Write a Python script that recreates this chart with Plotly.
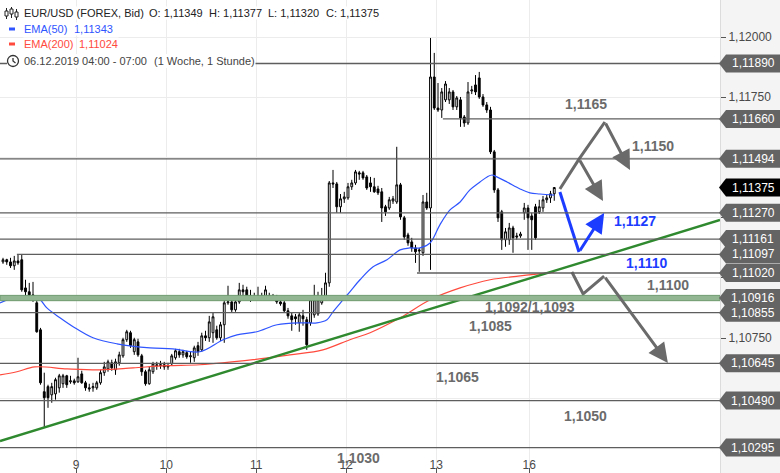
"""EUR/USD Stundenchart mit Analyse-Zeichnungen (Plotly)."""

import plotly.graph_objects as go

WIDTH, HEIGHT = 780, 473
PLOT_W = 720
FONT = "Liberation Sans, Arial, sans-serif"

Y_RANGE = [1.101894, 1.121537]
X_RANGE = [-0.8, 191.2]

# --- Kerzen (1 Stunde) ---------------------------------------------------
opens = [
    1.11066, 1.11075, 1.11066, 1.11050, 1.11070, 1.11075, 1.10958, 1.10942, 1.10929, 1.10896,
    1.10784, 1.10527, 1.10548, 1.10514, 1.10518, 1.10543, 1.10560, 1.10593, 1.10568, 1.10572,
    1.10568, 1.10601, 1.10564, 1.10543, 1.10543, 1.10543, 1.10564, 1.10606, 1.10622, 1.10647,
    1.10618, 1.10647, 1.10676, 1.10743, 1.10772, 1.10693, 1.10734, 1.10676, 1.10610, 1.10560,
    1.10610, 1.10639, 1.10635, 1.10639, 1.10630, 1.10643, 1.10668, 1.10693, 1.10680, 1.10689,
    1.10672, 1.10668, 1.10718, 1.10701, 1.10759, 1.10751, 1.10772, 1.10784, 1.10751, 1.10805,
    1.10896, 1.10900, 1.10867, 1.10900, 1.10950, 1.10950, 1.10925, 1.10921, 1.10921, 1.10925,
    1.10921, 1.10925, 1.10921, 1.10921, 1.10900, 1.10896, 1.10863, 1.10842, 1.10838, 1.10813,
    1.10842, 1.10826, 1.10813, 1.10846, 1.10850, 1.10896, 1.10921, 1.10979, 1.11394, 1.11390,
    1.11295, 1.11328, 1.11332, 1.11378, 1.11394, 1.11436, 1.11436, 1.11419, 1.11394, 1.11378,
    1.11369, 1.11357, 1.11295, 1.11290, 1.11319, 1.11315, 1.11386, 1.11249, 1.11178, 1.11149,
    1.11124, 1.11116, 1.11104, 1.11315, 1.11290, 1.11834, 1.11705, 1.11697, 1.11739, 1.11739,
    1.11772, 1.11710, 1.11739, 1.11668, 1.11643, 1.11776, 1.11801, 1.11830, 1.11751, 1.11718,
    1.11697, 1.11523, 1.11365, 1.11274, 1.11158, 1.11158, 1.11207, 1.11174, 1.11174, 1.11270,
    1.11290, 1.11257, 1.11295, 1.11274, 1.11290, 1.11324, 1.11332, 1.11349,
]
highs = [
    1.11083, 1.11079, 1.11083, 1.11091, 1.11099, 1.11099, 1.10992, 1.10979, 1.10983, 1.10909,
    1.10792, 1.10606, 1.10556, 1.10564, 1.10585, 1.10601, 1.10601, 1.10597, 1.10593, 1.10581,
    1.10668, 1.10614, 1.10572, 1.10560, 1.10564, 1.10572, 1.10618, 1.10651, 1.10660, 1.10660,
    1.10664, 1.10693, 1.10751, 1.10784, 1.10780, 1.10751, 1.10747, 1.10684, 1.10618, 1.10630,
    1.10651, 1.10651, 1.10655, 1.10651, 1.10647, 1.10684, 1.10705, 1.10705, 1.10701, 1.10697,
    1.10693, 1.10718, 1.10734, 1.10772, 1.10780, 1.10842, 1.10855, 1.10801, 1.10817, 1.10909,
    1.10967, 1.10917, 1.10909, 1.10979, 1.10971, 1.10963, 1.10950, 1.10938, 1.10963, 1.10938,
    1.10967, 1.10938, 1.10933, 1.10929, 1.10913, 1.10904, 1.10875, 1.10855, 1.10850, 1.10855,
    1.10867, 1.10838, 1.10921, 1.10971, 1.10942, 1.10958, 1.11021, 1.11402, 1.11448, 1.11398,
    1.11348, 1.11357, 1.11394, 1.11407, 1.11448, 1.11444, 1.11444, 1.11427, 1.11419, 1.11415,
    1.11382, 1.11373, 1.11303, 1.11336, 1.11340, 1.11544, 1.11394, 1.11257, 1.11187, 1.11166,
    1.11137, 1.11124, 1.11344, 1.11353, 1.11996, 1.11934, 1.11809, 1.11788, 1.11817, 1.11788,
    1.11780, 1.11755, 1.11751, 1.11676, 1.11813, 1.11797, 1.11842, 1.11855, 1.11763, 1.11730,
    1.11710, 1.11531, 1.11373, 1.11282, 1.11207, 1.11228, 1.11216, 1.11187, 1.11191, 1.11311,
    1.11303, 1.11270, 1.11307, 1.11324, 1.11340, 1.11344, 1.11361, 1.11377,
]
lows = [
    1.11058, 1.11054, 1.11041, 1.11033, 1.11054, 1.10942, 1.10925, 1.10921, 1.10900, 1.10772,
    1.10556, 1.10377, 1.10460, 1.10481, 1.10494, 1.10523, 1.10543, 1.10543, 1.10560, 1.10556,
    1.10564, 1.10560, 1.10531, 1.10527, 1.10527, 1.10535, 1.10556, 1.10593, 1.10610, 1.10614,
    1.10597, 1.10635, 1.10668, 1.10734, 1.10709, 1.10680, 1.10672, 1.10593, 1.10552, 1.10556,
    1.10601, 1.10618, 1.10622, 1.10618, 1.10618, 1.10635, 1.10660, 1.10668, 1.10668, 1.10664,
    1.10647, 1.10651, 1.10676, 1.10693, 1.10738, 1.10734, 1.10730, 1.10743, 1.10738, 1.10730,
    1.10888, 1.10855, 1.10859, 1.10892, 1.10909, 1.10909, 1.10900, 1.10909, 1.10909, 1.10909,
    1.10909, 1.10913, 1.10909, 1.10892, 1.10884, 1.10855, 1.10830, 1.10780, 1.10805, 1.10776,
    1.10801, 1.10701, 1.10801, 1.10834, 1.10842, 1.10888, 1.10909, 1.10963, 1.11373, 1.11270,
    1.11270, 1.11311, 1.11324, 1.11365, 1.11386, 1.11407, 1.11407, 1.11365, 1.11357, 1.11353,
    1.11344, 1.11232, 1.11257, 1.11282, 1.11307, 1.11307, 1.11241, 1.11158, 1.11133, 1.11108,
    1.11062, 1.11025, 1.11091, 1.11282, 1.11033, 1.11697, 1.11689, 1.11664, 1.11730, 1.11722,
    1.11697, 1.11697, 1.11627, 1.11627, 1.11635, 1.11763, 1.11759, 1.11743, 1.11710, 1.11685,
    1.11514, 1.11353, 1.11232, 1.11116, 1.11129, 1.11137, 1.11104, 1.11158, 1.11166, 1.11241,
    1.11116, 1.11116, 1.11158, 1.11265, 1.11274, 1.11311, 1.11311, 1.11320,
]
closes = [
    1.11075, 1.11066, 1.11050, 1.11070, 1.11062, 1.10950, 1.10942, 1.10929, 1.10909, 1.10776,
    1.10564, 1.10502, 1.10502, 1.10548, 1.10577, 1.10593, 1.10593, 1.10556, 1.10572, 1.10564,
    1.10589, 1.10564, 1.10543, 1.10539, 1.10548, 1.10564, 1.10606, 1.10630, 1.10651, 1.10626,
    1.10651, 1.10680, 1.10743, 1.10776, 1.10718, 1.10743, 1.10680, 1.10610, 1.10560, 1.10618,
    1.10643, 1.10635, 1.10639, 1.10630, 1.10635, 1.10676, 1.10697, 1.10680, 1.10693, 1.10672,
    1.10676, 1.10709, 1.10693, 1.10759, 1.10751, 1.10817, 1.10838, 1.10751, 1.10805, 1.10896,
    1.10900, 1.10867, 1.10900, 1.10950, 1.10942, 1.10917, 1.10921, 1.10917, 1.10925, 1.10921,
    1.10950, 1.10921, 1.10917, 1.10900, 1.10892, 1.10863, 1.10842, 1.10826, 1.10830, 1.10846,
    1.10830, 1.10722, 1.10909, 1.10909, 1.10909, 1.10917, 1.10979, 1.11394, 1.11390, 1.11295,
    1.11328, 1.11336, 1.11378, 1.11394, 1.11440, 1.11431, 1.11415, 1.11373, 1.11378, 1.11357,
    1.11353, 1.11290, 1.11274, 1.11324, 1.11328, 1.11386, 1.11253, 1.11170, 1.11145, 1.11124,
    1.11108, 1.11112, 1.11315, 1.11290, 1.11834, 1.11705, 1.11697, 1.11772, 1.11805, 1.11772,
    1.11710, 1.11747, 1.11664, 1.11643, 1.11772, 1.11780, 1.11772, 1.11751, 1.11718, 1.11697,
    1.11523, 1.11365, 1.11249, 1.11158, 1.11191, 1.11207, 1.11166, 1.11170, 1.11182, 1.11290,
    1.11249, 1.11241, 1.11166, 1.11295, 1.11324, 1.11332, 1.11349, 1.11375,
]

# --- Gleitende Durchschnitte (Stützpunkte) ------------------------------
ema50_idx = [-0.8, 3.7, 8.0, 9.9, 11.7, 15.2, 18.7, 24.0, 30.4, 39.2, 45.3, 52.5, 58.7,
             62.4, 67.7, 73.1, 80.0, 83.7, 86.4, 88.0, 90.7, 92.5, 95.2, 98.7, 102.4,
             105.9, 108.5, 111.2, 113.9, 116.5, 119.2, 121.9, 124.5, 127.2, 129.1, 130.4,
             131.7, 134.4, 137.9, 140.5, 143.2, 147.0]
ema50_val = [1.10896, 1.10921, 1.10921, 1.10909, 1.10875, 1.10834, 1.10797, 1.10751,
             1.10726, 1.10709, 1.10705, 1.10693, 1.10743, 1.10763, 1.10776, 1.10805,
             1.10813, 1.10813, 1.10826, 1.10859, 1.10909, 1.10942, 1.10992, 1.11046,
             1.11075, 1.11116, 1.11124, 1.11124, 1.11145, 1.11220, 1.11282, 1.11315,
             1.11365, 1.11398, 1.11419, 1.11427, 1.11419, 1.11398, 1.11369, 1.11353,
             1.11348, 1.11343]

ema200_idx = [-0.8, 3.7, 8.5, 17.1, 25.9, 34.7, 43.7, 52.5, 66.7, 76.5, 85.3, 92.5,
              97.9, 105.9, 113.9, 121.9, 129.9, 137.9, 147.0]
ema200_val = [1.10597, 1.10610, 1.10630, 1.10622, 1.10618, 1.10626, 1.10635, 1.10639,
              1.10660, 1.10680, 1.10701, 1.10743, 1.10772, 1.10834, 1.10909, 1.10958,
              1.10992, 1.11008, 1.11024]

# --- Achsen ---------------------------------------------------------------
day_ticks = [19.5, 43.5, 67.5, 91.5, 115.5, 140.3]
day_labels = ["9", "10", "11", "12", "13", "16"]
price_ticks = [1.1025, 1.105, 1.1075, 1.11, 1.1125, 1.115, 1.1175, 1.12]
# Beschriftungen, die unter den Preis-Etiketten verschwinden, bleiben leer
price_tick_labels = ["1,10250", "", "1,10750", "", "", "", "1,11750", "1,12000"]

# --- Horizontale Marken (Preis, Startkerze) ------------------------------
level_prices = [1.11890, 1.11660, 1.11494, 1.11270, 1.11161, 1.11097, 1.11020,
                1.10855, 1.10645, 1.10490, 1.10295]
level_starts = [-0.8, 117.3, -0.8, -0.8, -0.8, 3.7, 110.4, -0.8, -0.8, -0.8, -0.8]
zone_price = 1.10916
zone_half = 0.00011
last_price = 1.11375

trend_idx = [-0.8, 191.2]
trend_val = [1.10322, 1.11240]

# --- Szenario-Pfeile -----------------------------------------------------
up_path_idx = [148.5, 153.6, 160.5, 167.2]
up_path_val = [1.11369, 1.11493, 1.11647, 1.11448]
branch_idx = [153.6, 160.0]
branch_val = [1.11493, 1.11319]
blue_idx = [148.5, 153.6, 160.3]
blue_val = [1.11356, 1.11107, 1.11269]
down_idx = [151.7, 154.7, 160.3, 177.3]
down_val = [1.11024, 1.10933, 1.11007, 1.10646]

# Beschriftungen (Text, Kerze, Preis, Farbe)
notes = [
    ("1,1165", 155.5, 1.11722, "#6b6b6b"),
    ("1,1150", 173.3, 1.11547, "#6b6b6b"),
    ("1,1127", 168.5, 1.11236, "#1c3cff"),
    ("1,1110", 171.5, 1.11061, "#1c3cff"),
    ("1,1100", 177.3, 1.10970, "#6b6b6b"),
    ("1,1092/1,1093", 140.5, 1.10879, "#6b6b6b"),
    ("1,1085", 129.9, 1.10800, "#6b6b6b"),
    ("1,1065", 121.3, 1.10588, "#6b6b6b"),
    ("1,1050", 155.2, 1.10426, "#6b6b6b"),
    ("1,1030", 94.7, 1.10252, "#6b6b6b"),
]

# Kopfzeilen (Text, x-Pixel, y-Pixel, Farbe)
header_items = [
    ("EUR/USD (FOREX, Bid)", 23, 13, "#222222"),
    ("O: 1,11349", 148, 13, "#222222"),
    ("H: 1,11377", 208, 13, "#222222"),
    ("L: 1,11320", 267, 13, "#222222"),
    ("C: 1,11375", 325, 13, "#222222"),
    ("EMA(50)", 23, 29, "#2f55ff"),
    ("1,11343", 73, 29, "#2f55ff"),
    ("EMA(200)", 23, 44, "#ff4a3d"),
    ("1,11024", 78, 44, "#ff4a3d"),
    ("06.12.2019 04:00 - 07:00", 23, 61, "#444444"),
    ("(1 Woche, 1 Stunde)", 153, 61, "#444444"),
]

GRAY = "#6a6a6a"
BLUE = "#1c3cff"
LEVEL_COLOR = "#5e5e5e"


def px_x(px: float) -> float:
    """Pixel (horizontal) -> Papierkoordinate."""
    return px / PLOT_W


def px_y(py: float) -> float:
    """Pixel (vertikal) -> Papierkoordinate."""
    return 1 - py / HEIGHT


def price_to_paper(p: float) -> float:
    return (p - Y_RANGE[0]) / (Y_RANGE[1] - Y_RANGE[0])


fig = go.Figure()

fig.add_trace(go.Scatter(x=ema200_idx, y=ema200_val, mode="lines",
                         line=dict(color="#ff4a3d", width=1.2, shape="spline"),
                         hoverinfo="skip"))
fig.add_trace(go.Scatter(x=ema50_idx, y=ema50_val, mode="lines",
                         line=dict(color="#2f55ff", width=1.2, shape="spline"),
                         hoverinfo="skip"))

fig.add_trace(go.Candlestick(
    x=list(range(len(opens))),
    open=opens, high=highs, low=lows, close=closes,
    increasing=dict(line=dict(color="#000000", width=1), fillcolor="#ffffff"),
    decreasing=dict(line=dict(color="#000000", width=1), fillcolor="#000000"),
    whiskerwidth=0,
))

fig.add_trace(go.Scatter(x=trend_idx, y=trend_val, mode="lines",
                         line=dict(color="#2f8a2f", width=2.4), hoverinfo="skip"))

# Szenario-Linien (letztes Segment kommt als Pfeil)
for xs, ys, color in [
    (up_path_idx, up_path_val, GRAY),
    (blue_idx, blue_val, BLUE),
    (down_idx, down_val, GRAY),
]:
    fig.add_trace(go.Scatter(x=xs[:-1], y=ys[:-1], mode="lines",
                             line=dict(color=color, width=3), hoverinfo="skip"))

shapes = []
for price, start in zip(level_prices, level_starts):
    shapes.append(dict(type="line", xref="x", yref="y", x0=start, x1=X_RANGE[1],
                       y0=price, y1=price, line=dict(color=LEVEL_COLOR, width=1.3)))
shapes.append(dict(type="rect", xref="x", yref="y", x0=X_RANGE[0], x1=X_RANGE[1],
                   y0=zone_price - zone_half, y1=zone_price + zone_half,
                   fillcolor="#92b692", line=dict(color="#6f9a6f", width=1)))

# weisser Hintergrund der Kopfzeile (verdeckt die 1,11890-Linie)
shapes.append(dict(type="rect", xref="paper", yref="paper", x0=px_x(7), x1=px_x(254),
                   y0=px_y(68), y1=px_y(54), fillcolor="#ffffff", line=dict(width=0)))

# Preis-Etiketten rechts
half_h = 9 / HEIGHT
tag_prices = level_prices[:6] + [level_prices[6], zone_price] + level_prices[7:] + [last_price]
for price in tag_prices:
    yc = price_to_paper(price)
    color = "#000000" if price == last_price else "#646464"
    path = (f"M {px_x(719)} {yc} L {px_x(726)} {yc + half_h} L {px_x(781)} {yc + half_h} "
            f"L {px_x(781)} {yc - half_h} L {px_x(726)} {yc - half_h} Z")
    shapes.append(dict(type="path", xref="paper", yref="paper", path=path,
                       fillcolor=color, line=dict(width=0), layer="above"))

# Legenden-Symbole oben links
shapes += [
    dict(type="line", xref="paper", yref="paper", x0=px_x(9), x1=px_x(15),
         y0=px_y(29), y1=px_y(29), line=dict(color="#2f55ff", width=3)),
    dict(type="line", xref="paper", yref="paper", x0=px_x(9), x1=px_x(15),
         y0=px_y(44), y1=px_y(44), line=dict(color="#ff4a3d", width=3)),
    dict(type="circle", xref="paper", yref="paper", x0=px_x(7.5), x1=px_x(18.5),
         y0=px_y(55.5), y1=px_y(66.5), line=dict(color="#333333", width=1.3)),
    dict(type="path", xref="paper", yref="paper",
         path=f"M {px_x(13)} {px_y(58)} L {px_x(13)} {px_y(61)} L {px_x(15.5)} {px_y(63)}",
         line=dict(color="#333333", width=1.3)),
]
for cx, top, bot, btop, bbot in [(6.5, 8, 19, 11, 16), (11.5, 7, 18, 9, 14), (16.5, 9, 20, 12, 17)]:
    shapes.append(dict(type="line", xref="paper", yref="paper", x0=px_x(cx), x1=px_x(cx),
                       y0=px_y(top), y1=px_y(bot), line=dict(color="#222222", width=1)))
    shapes.append(dict(type="rect", xref="paper", yref="paper", x0=px_x(cx - 1.5),
                       x1=px_x(cx + 1.5), y0=px_y(btop), y1=px_y(bbot),
                       fillcolor="#ffffff", line=dict(color="#222222", width=1)))

annotations = []
for price in tag_prices:
    annotations.append(dict(xref="paper", yref="paper", x=px_x(753), y=price_to_paper(price),
                            text=f"{price:.5f}".replace(".", ","), showarrow=False,
                            font=dict(family=FONT, size=12, color="#ffffff"),
                            xanchor="center", yanchor="middle"))

for text, xi, price, color in notes:
    annotations.append(dict(x=xi, y=price, xref="x", yref="y", text=f"<b>{text}</b>",
                            showarrow=False, font=dict(family=FONT, size=14, color=color)))

# Pfeilspitzen
for xs, ys, color in [
    (up_path_idx, up_path_val, GRAY),
    (branch_idx, branch_val, GRAY),
    (blue_idx, blue_val, BLUE),
    (down_idx, down_val, GRAY),
]:
    annotations.append(dict(x=xs[-1], y=ys[-1], ax=xs[-2], ay=ys[-2], xref="x", yref="y",
                            axref="x", ayref="y", text="", showarrow=True, arrowhead=2,
                            arrowsize=1.3, arrowwidth=3, arrowcolor=color, standoff=0))

for text, xpx, ypx, color in header_items:
    annotations.append(dict(xref="paper", yref="paper", x=px_x(xpx), y=px_y(ypx), text=text,
                            showarrow=False, xanchor="left", yanchor="middle",
                            font=dict(family=FONT, size=11, color=color),
                            bgcolor="#ffffff", borderpad=0))

fig.update_layout(
    width=WIDTH,
    height=HEIGHT,
    margin=dict(l=0, r=WIDTH - PLOT_W, t=0, b=0),
    paper_bgcolor="#f4f4f4",
    plot_bgcolor="#ffffff",
    showlegend=False,
    separators=",.",
    font=dict(family=FONT, size=12, color="#4a4a4a"),
    shapes=shapes,
    annotations=annotations,
    hovermode=False,
)
fig.update_xaxes(
    range=X_RANGE, rangeslider_visible=False, tickmode="array",
    tickvals=day_ticks, ticktext=day_labels, ticks="inside", ticklen=5,
    tickcolor="#555555", ticklabelposition="inside", ticklabelstandoff=-4,
    showgrid=True, gridcolor="#ececec", zeroline=False, showline=False,
    tickfont=dict(family=FONT, size=12, color="#4a4a4a"),
)
fig.update_yaxes(
    range=Y_RANGE, side="right", tickmode="array", tickvals=price_ticks,
    ticktext=price_tick_labels, ticks="outside", ticklen=5, tickcolor="#555555",
    showgrid=True, gridcolor="#ececec", zeroline=False, showline=True,
    linecolor="#dcdcdc", linewidth=1,
    tickfont=dict(family=FONT, size=12, color="#4a4a4a"),
)

fig.write_html(
    "out.html",
    config={"displayModeBar": False},
    post_script="document.body.style.margin='0';document.body.style.overflow='hidden';",
)
